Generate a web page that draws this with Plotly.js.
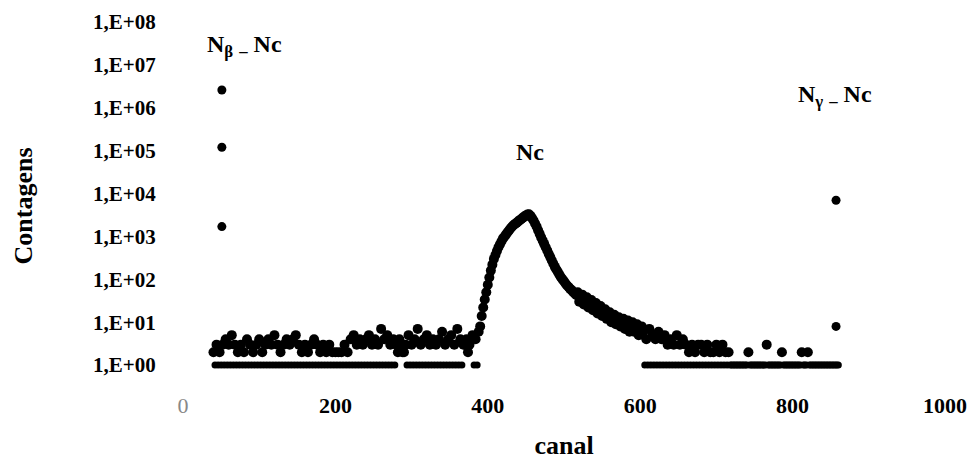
<!DOCTYPE html>
<html>
<head>
<meta charset="utf-8">
<script src="https://cdn.plot.ly/plotly-3.0.1.min.js"></script>
<style>
  html, body { margin: 0; padding: 0; background: #ffffff; }
  #chart { width: 971px; height: 467px; }
</style>
</head>
<body>
<div id="chart"></div>
<script>
// Low-energy region: channels 40-386
const canalA = [40,42,44,46,48,50,52,54,56,58,60,62,64,66,68,70,72,74,76,78,
  80,82,84,86,88,90,92,94,96,98,100,102,104,106,108,110,112,114,116,118,
  120,122,124,126,128,130,132,134,136,138,140,142,144,146,148,150,152,154,156,158,
  160,162,164,166,168,170,172,174,176,178,180,182,184,186,188,190,192,194,196,198,
  200,202,204,206,208,210,212,214,216,218,220,222,224,226,228,230,232,234,236,238,
  240,242,244,246,248,250,252,254,256,258,260,262,264,266,268,270,272,274,276,278,
  280,282,284,286,288,290,292,294,296,298,300,302,304,306,308,310,312,314,316,318,
  320,322,324,326,328,330,332,334,336,338,340,342,344,346,348,350,352,354,356,358,
  360,362,364,366,368,370,372,374,376,378,380,382,384,386];
const contA = [2,1,3,1,2,1,3,1,4,1,3,1,5,1,3,1,2,1,3,1,
  2,1,4,1,3,1,2,1,3,1,4,1,2,1,3,1,4,1,3,1,
  5,1,3,1,2,1,3,1,4,1,3,1,4,1,5,1,3,1,2,1,
  3,1,2,1,3,1,4,1,3,1,2,1,3,1,2,1,3,1,2,1,
  2,1,2,1,2,1,3,1,2,1,4,1,5,1,3,1,4,1,3,1,
  4,1,5,1,3,1,4,1,3,1,7,1,4,1,5,1,3,1,4,1,
  3,2,4,3,2,2,3,1,5,1,3,1,4,1,7,1,3,1,4,1,
  5,1,3,1,4,1,3,1,4,1,6,1,3,1,4,1,5,1,3,1,
  7,1,4,1,3,3,4,2,3,4,5,1,4,1];

// Coincidence peak (Nc): channels 388-602
const canalB = [388,390,392,394,396,398,400,402,404,406,408,410,412,414,416,418,420,422,424,426,
  428,430,432,434,436,438,440,442,444,446,448,450,452,454,456,458,460,462,464,466,
  468,470,472,474,476,478,480,482,484,486,488,490,492,494,496,498,500,502,504,506,
  508,510,512,514,516,518,520,522,524,526,528,530,532,534,536,538,540,542,544,546,
  548,550,552,554,556,558,560,562,564,566,568,570,572,574,576,578,580,582,584,586,
  588,590,592,594,596,598,600,602];
const contB = [6,8,14,22,34,50,75,110,160,220,300,370,460,560,660,770,900,1000,1120,1250,
  1400,1550,1700,1850,1980,2100,2250,2400,2550,2750,2900,3100,3250,3300,3050,2700,2350,2000,1700,1400,
  1150,950,800,670,560,470,390,330,275,230,195,170,148,128,112,100,90,80,72,66,
  60,56,51,47,43,50,30,40,44,26,35,38,22,30,33,19,26,28,16,22,
  24,14,18,20,12,15,17,10,13,15,9,12,13,8,10,12,7,9,11,6,
  8,10,6,8,9,5,7,8];

// High-energy region: channels 604-860
const canalC = [604,606,608,610,612,614,616,618,620,622,624,626,628,630,632,634,636,638,640,642,
  644,646,648,650,652,654,656,658,660,662,664,666,668,670,672,674,676,678,680,682,
  684,686,688,690,692,694,696,698,700,702,704,706,708,710,712,714,716,718,720,722,
  724,726,728,730,732,734,736,738,740,742,744,746,748,750,752,754,756,758,760,762,
  764,766,768,770,772,774,776,778,780,782,784,786,788,790,792,794,796,798,800,802,
  804,806,808,810,812,814,816,818,820,822,824,826,828,830,832,834,836,838,840,842,
  844,846,848,850,852,854,856,858,860];
const contC = [6,1,4,1,7,1,5,1,4,1,6,1,4,1,5,1,3,1,4,1,
  3,1,5,1,3,1,4,1,3,1,2,1,3,1,2,1,3,1,3,1,
  2,1,3,1,2,1,2,1,3,1,2,1,3,1,2,1,2,1,1,1,
  1,1,1,1,1,1,1,1,1,2,1,1,1,1,1,1,1,1,1,1,
  1,3,1,1,1,1,1,1,1,1,1,2,1,1,1,1,1,1,1,1,
  1,1,1,1,2,1,1,1,2,1,1,1,1,1,1,1,1,1,1,1,
  1,1,1,1,1,1,1,1,1];

// Beta-window and gamma-window counts
const canalBeta = [51, 51, 51];
const contBeta = [2600000, 120000, 1700];
const canalGamma = [857, 857];
const contGamma = [7000, 8];

// Axis ticks
const xTicks = [0, 200, 400, 600, 800, 1000];
const xTickText = ['<span style="font-weight:normal;color:#888">0</span>', '200', '400', '600', '800', '1000'];
const yTicks = [1, 10, 100, 1e3, 1e4, 1e5, 1e6, 1e7, 1e8];
const yTickText = ['1,E+00','1,E+01','1,E+02','1,E+03','1,E+04','1,E+05','1,E+06','1,E+07','1,E+08'];

const serif = 'Liberation Serif, Times New Roman, serif';

const spectrumX = canalA.concat(canalB, canalC);
const spectrumY = contA.concat(contB, contC);
// single-count channels form the thinner floor line
const spectrumSize = spectrumY.map(function (v) { return v === 1 ? 7 : 10; });

const solid = { width: 0 };
const traces = [
  { type: 'scatter', mode: 'markers', name: 'Nc', x: spectrumX, y: spectrumY,
    marker: { color: '#000000', size: spectrumSize, opacity: 1, line: solid } },
  { type: 'scatter', mode: 'markers', name: 'Nβ - Nc', x: canalBeta, y: contBeta,
    marker: { color: '#000000', size: 9, opacity: 1, line: solid } },
  { type: 'scatter', mode: 'markers', name: 'Nγ - Nc', x: canalGamma, y: contGamma,
    marker: { color: '#000000', size: 9, opacity: 1, line: solid } }
];

const labelFont = { family: serif, size: 24, color: '#000', weight: 'bold' };

const layout = {
  width: 971,
  height: 467,
  margin: { l: 183, r: 26, t: 22, b: 77 },
  paper_bgcolor: '#ffffff',
  plot_bgcolor: '#ffffff',
  showlegend: false,
  font: { family: serif, color: '#000' },
  xaxis: {
    range: [0, 1000],
    tickmode: 'array',
    tickvals: xTicks,
    ticktext: xTickText,
    showgrid: false,
    zeroline: false,
    showline: false,
    ticks: '',
    tickfont: { family: serif, size: 22, color: '#000', weight: 'bold' },
    title: { text: 'canal', font: { family: serif, size: 26, color: '#000', weight: 'bold' }, standoff: 18 }
  },
  yaxis: {
    type: 'log',
    range: [-0.58, 8],
    tickmode: 'array',
    tickvals: yTicks,
    ticktext: yTickText,
    showgrid: false,
    zeroline: false,
    showline: false,
    ticks: 'outside',
    ticklen: 22,
    tickcolor: 'rgba(0,0,0,0)',
    tickfont: { family: serif, size: 21, color: '#000', weight: 'bold' },
    title: { text: 'Contagens', font: { family: serif, size: 26, color: '#000', weight: 'bold' }, standoff: 52 }
  },
  annotations: [
    { x: 81, y: 7.44, xref: 'x', yref: 'y', text: 'N<sub>β</sub> <sub>–</sub> Nc', showarrow: false, font: labelFont },
    { x: 455, y: 4.97, xref: 'x', yref: 'y', text: 'Nc', showarrow: false, font: labelFont },
    { x: 856, y: 6.27, xref: 'x', yref: 'y', text: 'N<sub>γ</sub> <sub>–</sub> Nc', showarrow: false, font: labelFont }
  ]
};

Plotly.newPlot('chart', traces, layout, { displayModeBar: false, staticPlot: true });
</script>
</body>
</html>
